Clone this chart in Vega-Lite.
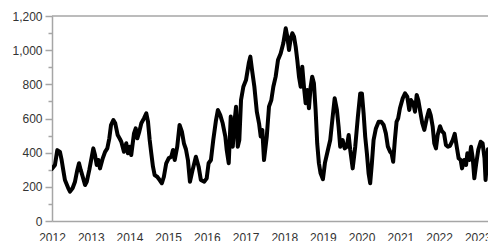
{
  "$schema": "https://vega.github.io/schema/vega-lite/v6.json",
  "width": 436,
  "height": 205,
  "autosize": {"type": "none"},
  "padding": {"left": 52, "top": 16, "right": 0, "bottom": 20},
  "background": "white",
  "config": {
    "view": {"stroke": null},
    "axis": {
      "labelFont": "Liberation Sans",
      "labelFontSize": 12,
      "labelColor": "#333333",
      "domainColor": "#a6a6a6",
      "tickColor": "#a6a6a6",
      "domainWidth": 1.5,
      "tickWidth": 1.5,
      "grid": false,
      "title": null
    }
  },
  "data": {
    "values": [
      {"date": "2012-01-01", "value": 305},
      {"date": "2012-01-29", "value": 328},
      {"date": "2012-02-20", "value": 415},
      {"date": "2012-03-16", "value": 405},
      {"date": "2012-04-01", "value": 357},
      {"date": "2012-04-16", "value": 299},
      {"date": "2012-05-02", "value": 240},
      {"date": "2012-06-02", "value": 193},
      {"date": "2012-06-19", "value": 172},
      {"date": "2012-07-14", "value": 193},
      {"date": "2012-08-05", "value": 230},
      {"date": "2012-08-27", "value": 299},
      {"date": "2012-09-12", "value": 338},
      {"date": "2012-09-28", "value": 299},
      {"date": "2012-10-17", "value": 259},
      {"date": "2012-11-08", "value": 211},
      {"date": "2012-11-24", "value": 230},
      {"date": "2012-12-18", "value": 299},
      {"date": "2013-01-10", "value": 376},
      {"date": "2013-01-25", "value": 425},
      {"date": "2013-02-10", "value": 386},
      {"date": "2013-02-26", "value": 328},
      {"date": "2013-03-13", "value": 357},
      {"date": "2013-03-29", "value": 308},
      {"date": "2013-04-24", "value": 367},
      {"date": "2013-05-16", "value": 405},
      {"date": "2013-06-06", "value": 425},
      {"date": "2013-06-25", "value": 484},
      {"date": "2013-07-11", "value": 562},
      {"date": "2013-08-02", "value": 591},
      {"date": "2013-08-20", "value": 572},
      {"date": "2013-09-12", "value": 503},
      {"date": "2013-10-03", "value": 480},
      {"date": "2013-10-16", "value": 464},
      {"date": "2013-11-10", "value": 405},
      {"date": "2013-12-02", "value": 455},
      {"date": "2013-12-18", "value": 396},
      {"date": "2014-01-03", "value": 435},
      {"date": "2014-01-18", "value": 386},
      {"date": "2014-02-13", "value": 513},
      {"date": "2014-03-01", "value": 542},
      {"date": "2014-03-16", "value": 484},
      {"date": "2014-04-04", "value": 523},
      {"date": "2014-04-23", "value": 572},
      {"date": "2014-05-18", "value": 601},
      {"date": "2014-06-09", "value": 630},
      {"date": "2014-06-25", "value": 581},
      {"date": "2014-07-11", "value": 474},
      {"date": "2014-07-26", "value": 396},
      {"date": "2014-08-11", "value": 318},
      {"date": "2014-08-27", "value": 269},
      {"date": "2014-09-20", "value": 259},
      {"date": "2014-10-13", "value": 240},
      {"date": "2014-11-03", "value": 221},
      {"date": "2014-11-22", "value": 259},
      {"date": "2014-12-14", "value": 338},
      {"date": "2015-01-06", "value": 367},
      {"date": "2015-01-31", "value": 376},
      {"date": "2015-02-16", "value": 416},
      {"date": "2015-03-04", "value": 357},
      {"date": "2015-03-28", "value": 435},
      {"date": "2015-04-19", "value": 562},
      {"date": "2015-05-11", "value": 523},
      {"date": "2015-05-30", "value": 455},
      {"date": "2015-06-18", "value": 420},
      {"date": "2015-07-07", "value": 357},
      {"date": "2015-07-26", "value": 230},
      {"date": "2015-08-20", "value": 299},
      {"date": "2015-09-20", "value": 376},
      {"date": "2015-10-16", "value": 318},
      {"date": "2015-11-06", "value": 240},
      {"date": "2015-12-08", "value": 230},
      {"date": "2015-12-31", "value": 250},
      {"date": "2016-01-18", "value": 338},
      {"date": "2016-02-09", "value": 357},
      {"date": "2016-03-02", "value": 474},
      {"date": "2016-03-28", "value": 591},
      {"date": "2016-04-15", "value": 650},
      {"date": "2016-05-07", "value": 620},
      {"date": "2016-05-30", "value": 572},
      {"date": "2016-06-24", "value": 494},
      {"date": "2016-07-07", "value": 416},
      {"date": "2016-07-26", "value": 338},
      {"date": "2016-08-14", "value": 611},
      {"date": "2016-09-02", "value": 435},
      {"date": "2016-09-20", "value": 591},
      {"date": "2016-10-03", "value": 669},
      {"date": "2016-10-19", "value": 435},
      {"date": "2016-11-03", "value": 474},
      {"date": "2016-11-19", "value": 708},
      {"date": "2016-12-11", "value": 786},
      {"date": "2017-01-05", "value": 825},
      {"date": "2017-01-31", "value": 923},
      {"date": "2017-02-15", "value": 962},
      {"date": "2017-03-03", "value": 884},
      {"date": "2017-03-25", "value": 786},
      {"date": "2017-04-17", "value": 640},
      {"date": "2017-05-08", "value": 572},
      {"date": "2017-05-24", "value": 494},
      {"date": "2017-06-08", "value": 533},
      {"date": "2017-06-24", "value": 357},
      {"date": "2017-07-20", "value": 494},
      {"date": "2017-08-10", "value": 669},
      {"date": "2017-09-01", "value": 708},
      {"date": "2017-09-20", "value": 786},
      {"date": "2017-10-12", "value": 845},
      {"date": "2017-11-03", "value": 942},
      {"date": "2017-11-28", "value": 981},
      {"date": "2017-12-23", "value": 1040},
      {"date": "2018-01-15", "value": 1128},
      {"date": "2018-01-30", "value": 1079},
      {"date": "2018-02-15", "value": 1001},
      {"date": "2018-03-03", "value": 1069},
      {"date": "2018-03-18", "value": 1099},
      {"date": "2018-04-03", "value": 1079},
      {"date": "2018-04-19", "value": 1020},
      {"date": "2018-05-04", "value": 942},
      {"date": "2018-05-20", "value": 845},
      {"date": "2018-06-05", "value": 786},
      {"date": "2018-06-20", "value": 903},
      {"date": "2018-07-06", "value": 786},
      {"date": "2018-07-22", "value": 689},
      {"date": "2018-08-06", "value": 767},
      {"date": "2018-08-22", "value": 660},
      {"date": "2018-09-07", "value": 786},
      {"date": "2018-09-22", "value": 845},
      {"date": "2018-10-08", "value": 806},
      {"date": "2018-10-24", "value": 650},
      {"date": "2018-11-08", "value": 455},
      {"date": "2018-11-24", "value": 338},
      {"date": "2018-12-10", "value": 279},
      {"date": "2019-01-01", "value": 245},
      {"date": "2019-01-20", "value": 340},
      {"date": "2019-02-17", "value": 416},
      {"date": "2019-03-11", "value": 474},
      {"date": "2019-04-03", "value": 611},
      {"date": "2019-04-22", "value": 718},
      {"date": "2019-05-13", "value": 650},
      {"date": "2019-05-29", "value": 552},
      {"date": "2019-06-13", "value": 435},
      {"date": "2019-07-06", "value": 474},
      {"date": "2019-07-25", "value": 425},
      {"date": "2019-08-15", "value": 435},
      {"date": "2019-09-01", "value": 503},
      {"date": "2019-09-16", "value": 416},
      {"date": "2019-10-09", "value": 308},
      {"date": "2019-11-02", "value": 435},
      {"date": "2019-11-27", "value": 611},
      {"date": "2019-12-19", "value": 747},
      {"date": "2020-01-04", "value": 747},
      {"date": "2020-01-20", "value": 630},
      {"date": "2020-02-04", "value": 494},
      {"date": "2020-02-20", "value": 396},
      {"date": "2020-03-07", "value": 279},
      {"date": "2020-03-22", "value": 221},
      {"date": "2020-04-07", "value": 338},
      {"date": "2020-04-23", "value": 474},
      {"date": "2020-05-15", "value": 542},
      {"date": "2020-06-10", "value": 581},
      {"date": "2020-07-04", "value": 581},
      {"date": "2020-07-27", "value": 562},
      {"date": "2020-08-17", "value": 513},
      {"date": "2020-09-05", "value": 435},
      {"date": "2020-09-27", "value": 405},
      {"date": "2020-10-10", "value": 396},
      {"date": "2020-10-25", "value": 347},
      {"date": "2020-11-10", "value": 474},
      {"date": "2020-11-26", "value": 581},
      {"date": "2020-12-11", "value": 601},
      {"date": "2020-12-28", "value": 660},
      {"date": "2021-01-23", "value": 718},
      {"date": "2021-02-14", "value": 747},
      {"date": "2021-03-07", "value": 728},
      {"date": "2021-03-26", "value": 650},
      {"date": "2021-04-11", "value": 708},
      {"date": "2021-05-03", "value": 689},
      {"date": "2021-05-19", "value": 640},
      {"date": "2021-06-04", "value": 738},
      {"date": "2021-06-19", "value": 708},
      {"date": "2021-07-05", "value": 650},
      {"date": "2021-07-27", "value": 572},
      {"date": "2021-08-15", "value": 533},
      {"date": "2021-09-07", "value": 601},
      {"date": "2021-09-28", "value": 650},
      {"date": "2021-10-14", "value": 620},
      {"date": "2021-11-02", "value": 552},
      {"date": "2021-11-17", "value": 455},
      {"date": "2021-12-03", "value": 425},
      {"date": "2021-12-19", "value": 503},
      {"date": "2022-01-10", "value": 555},
      {"date": "2022-01-26", "value": 528},
      {"date": "2022-02-17", "value": 513},
      {"date": "2022-03-07", "value": 445},
      {"date": "2022-03-26", "value": 435},
      {"date": "2022-04-14", "value": 440},
      {"date": "2022-05-10", "value": 474},
      {"date": "2022-05-29", "value": 510},
      {"date": "2022-06-17", "value": 435},
      {"date": "2022-07-05", "value": 367},
      {"date": "2022-07-24", "value": 357},
      {"date": "2022-08-06", "value": 308},
      {"date": "2022-08-25", "value": 357},
      {"date": "2022-09-13", "value": 328},
      {"date": "2022-09-25", "value": 396},
      {"date": "2022-10-14", "value": 357},
      {"date": "2022-10-30", "value": 435},
      {"date": "2022-11-15", "value": 367},
      {"date": "2022-11-30", "value": 250},
      {"date": "2022-12-16", "value": 328},
      {"date": "2023-01-06", "value": 416},
      {"date": "2023-01-29", "value": 464},
      {"date": "2023-02-16", "value": 455},
      {"date": "2023-03-06", "value": 367},
      {"date": "2023-03-16", "value": 240},
      {"date": "2023-03-31", "value": 357},
      {"date": "2023-04-07", "value": 420}
    ]
  },
  "encoding": {
    "y": {
      "field": "value",
      "type": "quantitative",
      "scale": {"domain": [0, 1200], "nice": false, "zero": true},
      "axis": {
        "values": [0, 100, 200, 300, 400, 500, 600, 700, 800, 900, 1000, 1100, 1200],
        "labelExpr": "datum.value % 200 === 0 ? format(datum.value, ',d') : ''",
        "tickSize": {"condition": {"test": "datum.value % 200 === 0", "value": 7}, "value": 4},
        "labelPadding": 3,
        "labelOverlap": false,
        "orient": "left"
      }
    }
  },
  "layer": [
    {
      "mark": {"type": "line", "color": "#000000", "strokeWidth": 4, "strokeJoin": "round", "strokeCap": "round", "clip": true},
      "encoding": {
        "x": {
          "field": "date",
          "type": "temporal",
          "scale": {"type": "utc", "domain": [{"year": 2012, "month": 1, "date": 1, "utc": true}, {"year": 2023, "month": 4, "date": 8, "utc": true}]},
          "axis": {"format": "%Y", "tickCount": {"interval": "year", "step": 1}, "ticks": false, "tickSize": 0, "labelPadding": 11, "labelFlush": false, "labelOverlap": false, "labelBound": false}
        }
      }
    },
    {
      "data": {"values": [{"value": 1200}]},
      "mark": {"type": "rule", "color": "#a6a6a6", "strokeWidth": 1.5}
    }
  ]
}
